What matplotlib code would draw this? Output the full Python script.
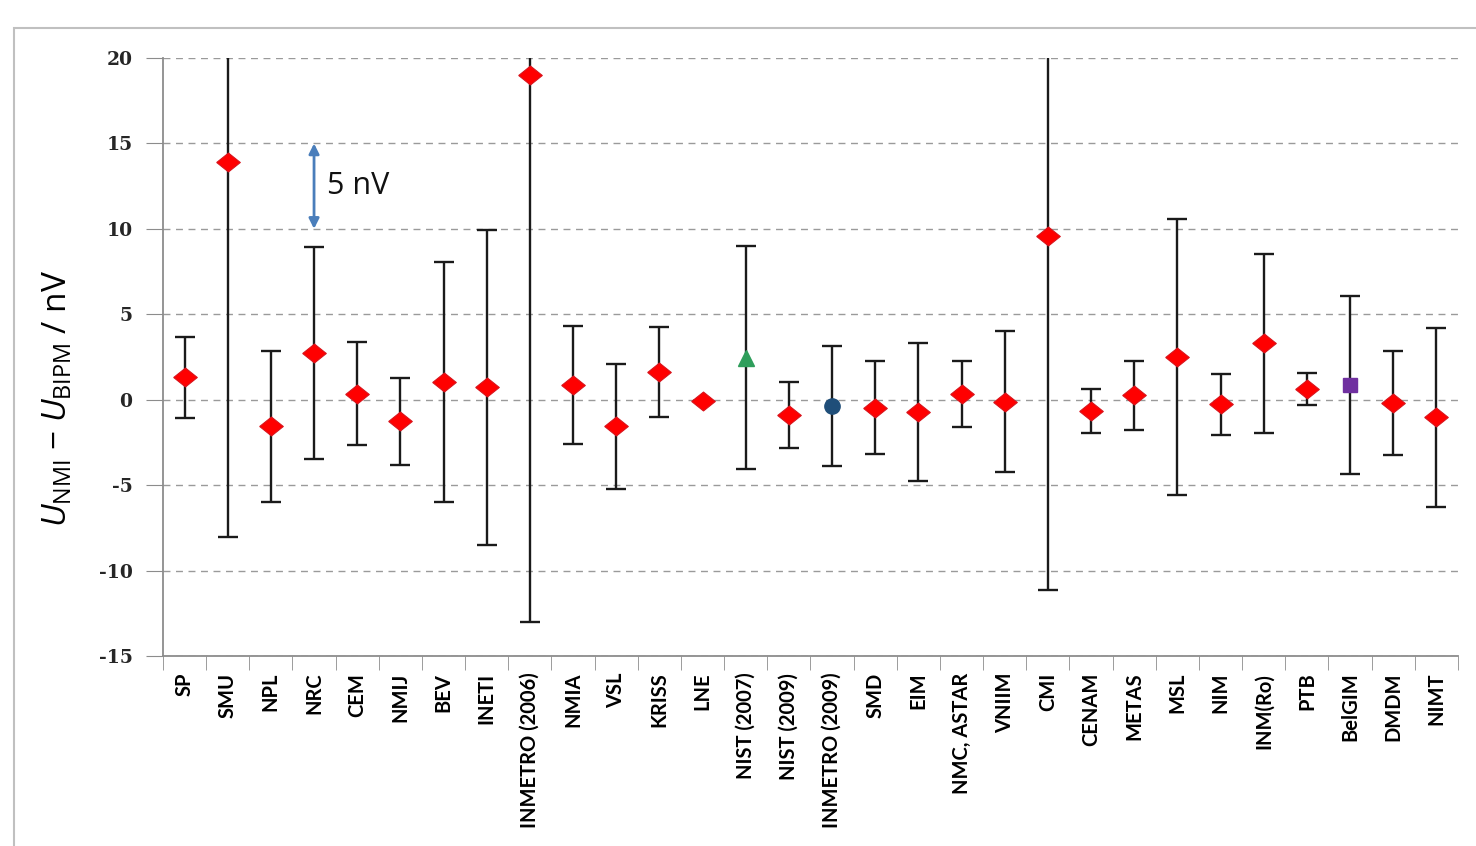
import numpy as np
import matplotlib
matplotlib.use("Agg")
import matplotlib.pyplot as plt
from matplotlib.patches import Rectangle

# data (nV), U = expanded uncertainty (symmetric)
labs = ['SP', 'SMU', 'NPL', 'NRC', 'CEM', 'NMIJ', 'BEV', 'INETI', 'INMETRO (2006)',
        'NMIA', 'VSL', 'KRISS', 'LNE', 'NIST (2007)', 'NIST (2009)', 'INMETRO (2009)',
        'SMD', 'EIM', 'NMC, ASTAR', 'VNIIM', 'CMI', 'CENAM', 'METAS', 'MSL', 'NIM',
        'INM(Ro)', 'PTB', 'BelGIM', 'DMDM', 'NIMT']
diff = [1.32, 13.94, -1.56, 2.73, 0.36, -1.27, 1.03, 0.72, 18.99,
        0.84, -1.54, 1.64, -0.10, 2.47, -0.89, -0.37,
        -0.46, -0.71, 0.35, -0.12, 9.61, -0.65, 0.26, 2.50, -0.27,
        3.30, 0.64, 0.85, -0.18, -1.04]
unc = [2.38, 22.0, 4.40, 6.20, 3.00, 2.57, 7.03, 9.20, 32.0,
       3.45, 3.66, 2.64, 0.0, 6.53, 1.93, 3.50,
       2.73, 4.04, 1.92, 4.12, 20.77, 1.30, 2.01, 8.10, 1.78,
       5.25, 0.95, 5.20, 3.03, 5.24]
# special markers for a few entries
special = {'NIST (2007)': ('^', '#2E9E5B'),
           'INMETRO (2009)': ('o', '#1F4E79'),
           'BelGIM': ('s', '#7030A0')}
arrow_at = 'NRC'
arrow_lo, arrow_hi = 10, 15

plt.rcParams['mathtext.fontset'] = 'custom'
plt.rcParams['mathtext.rm'] = 'Open Sans'
plt.rcParams['mathtext.it'] = 'Open Sans:italic'
plt.rcParams['axes.unicode_minus'] = False

fig = plt.figure(figsize=(14.76, 8.46), dpi=100)
ax = fig.add_axes([0.1104, 0.2246, 0.8774, 0.7068])

x = np.arange(len(labs))
diamond = [(-1, 0), (0, 0.8), (1, 0), (0, -0.8), (-1, 0)]

ax.errorbar(x, diff, yerr=unc, fmt='none', ecolor='#1a1a1a', elinewidth=1.7,
            capsize=7, capthick=1.7, zorder=2)
for i, lab in enumerate(labs):
    if lab in special:
        m, c = special[lab]
        ax.plot(x[i], diff[i], marker=m, color=c, ms=11 if m != 's' else 10,
                mec=c, zorder=3, ls='none')
    else:
        ax.plot(x[i], diff[i], marker=diamond, color='#FF0000', ms=17,
                mec='#D8141C', mew=0.8, zorder=3, ls='none')

ax.set_xlim(-0.5, len(labs) - 0.5)
ax.set_ylim(-15, 20)
ax.set_yticks(np.arange(-15, 21, 5))
ax.yaxis.grid(True, ls=(0, (5, 4)), color='#9a9a9a', lw=1.0)
ax.set_axisbelow(True)

ax.set_xticks(x)
ax.set_xticklabels(labs, rotation=90, fontsize=14.5, fontweight='bold', family='Lato')
ax.set_xticks(np.arange(-0.5, len(labs), 1), minor=True)
ax.tick_params(axis='x', which='major', length=0, pad=12)
ax.tick_params(axis='x', which='minor', length=10, color='#8c8c8c', direction='out')
ax.tick_params(axis='y', length=12, color='#8c8c8c', direction='out', pad=10)
for t in ax.get_yticklabels():
    t.set_fontsize(13.5)
    t.set_fontweight('bold')
    t.set_family('DejaVu Serif')
    t.set_color('#262626')

for s in ['top', 'right']:
    ax.spines[s].set_visible(False)
ax.spines['left'].set_color('#8c8c8c')
ax.spines['bottom'].set_color('#8c8c8c')
ax.spines['left'].set_linewidth(1.3)
ax.spines['bottom'].set_linewidth(1.3)

ax.set_ylabel(r'$U_{\mathrm{NMI}}$ $-$ $U_{\mathrm{BIPM}}$ / nV', fontsize=24,
              family='Open Sans')
ax.yaxis.set_label_coords(-0.068, 0.43)

# 5 nV scale arrow
xa = labs.index(arrow_at)
ax.annotate('', xy=(xa, arrow_hi), xytext=(xa, arrow_lo),
            arrowprops=dict(arrowstyle='<|-|>', color='#4A7EBB', lw=2,
                            mutation_scale=15, shrinkA=0, shrinkB=0))
ax.text(xa + 0.3, (arrow_lo + arrow_hi) / 2, '5 nV', fontsize=22,
        family='Open Sans', va='center', ha='left', color='#111111')

fig.patches.append(Rectangle((0.0095, -0.2), 1.2, 1.1669, transform=fig.transFigure,
                             fill=False, edgecolor='#C0C0C0', lw=1.5))

fig.savefig('out.png', dpi=100)
